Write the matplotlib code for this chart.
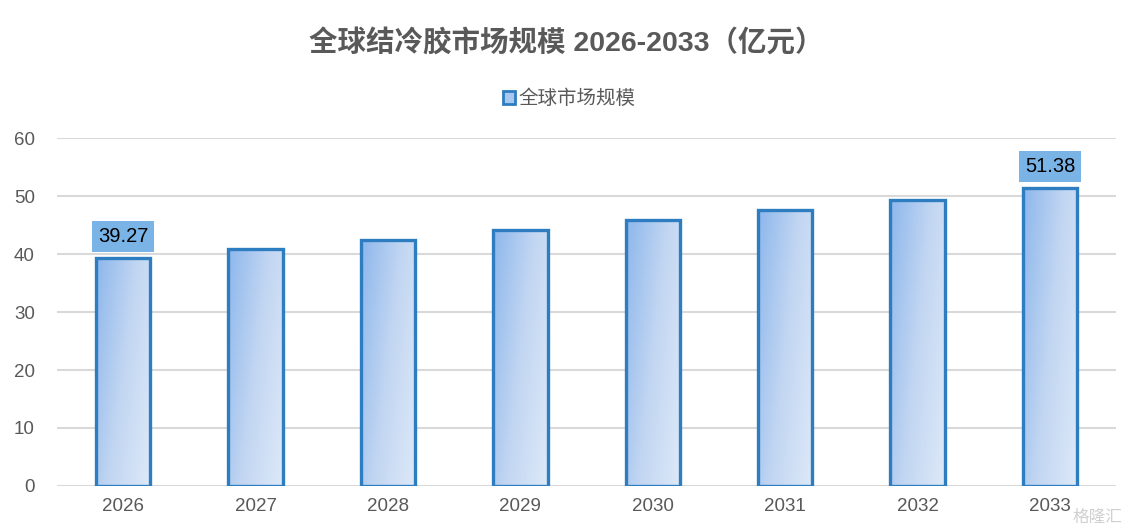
import numpy as np
import matplotlib.pyplot as plt
from matplotlib.patches import Patch
from matplotlib.colors import LinearSegmentedColormap

plt.rcParams['font.family'] = ['Liberation Sans', 'Noto Sans CJK SC', 'DejaVu Sans']

# data
years = ["2026", "2027", "2028", "2029", "2030", "2031", "2032", "2033"]
market_size = [39.27, 40.9, 42.4, 44.1, 45.8, 47.6, 49.3, 51.38]
labelled = {0: "39.27", 7: "51.38"}

title = "全球结冷胶市场规模 2026-2033（亿元）"
legend_label = "全球市场规模"

grey_text = "#595959"
edge_blue = "#2e7dc0"
grad = LinearSegmentedColormap.from_list("bar", ["#8db7ec", "#c2d6f2", "#dde9f8"])

fig = plt.figure(figsize=(11.39, 5.32), dpi=100)
ax = fig.add_axes([0.050, 0.0865, 0.930, 0.654])

x = np.arange(len(years))
bars = ax.bar(x, market_size, width=0.41, facecolor="none",
              edgecolor=edge_blue, linewidth=2.4, zorder=3)

# gradient fill clipped to each bar (darker top-left, lighter bottom-right)
gx, gy = np.meshgrid(np.linspace(0, 1, 60), np.linspace(0, 1, 200))
shade = 0.65 * gx + 0.35 * gy   # gy=0 at top when origin='upper'
for b in bars:
    x0, w, h = b.get_x(), b.get_width(), b.get_height()
    im = ax.imshow(shade, cmap=grad, extent=[x0, x0 + w, 0, h],
                   origin="upper", aspect="auto", zorder=2, vmin=0, vmax=1)
    im.set_clip_path(b)

for i, txt in labelled.items():
    ax.annotate(txt, (x[i], market_size[i]), xytext=(0, 15.5),
                textcoords="offset points", ha="center", va="center",
                fontsize=14.5, color="black", zorder=5,
                bbox=dict(boxstyle="square,pad=0.3", facecolor="#7ab4e6",
                          edgecolor="none"))

ax.set_xlim(-0.5, len(years) - 0.5)
ax.set_ylim(0, 60)
ax.set_yticks(range(0, 61, 10))
ax.set_xticks(x)
ax.set_xticklabels(years)
ax.yaxis.grid(True, color="#d9d9d9", linewidth=1.5, zorder=0)
ax.set_axisbelow(True)
for s in ax.spines.values():
    s.set_visible(False)
ax.tick_params(axis="both", length=0, labelsize=13.5, colors=grey_text)
ax.tick_params(axis="x", pad=9)
ax.tick_params(axis="y", pad=16)

fig.text(0.497, 0.918, title, ha="center", va="center", fontsize=20.5,
         fontweight="bold", color=grey_text)

handle = Patch(facecolor="#a9c8ef", edgecolor=edge_blue, linewidth=2)
fig.legend([handle], [legend_label], loc="center", bbox_to_anchor=(0.5, 0.814),
           frameon=False, fontsize=14, handlelength=0.6, handleheight=0.6,
           handletextpad=0.2, labelcolor=grey_text)

fig.text(0.985, 0.028, "格隆汇", ha="right", va="center", fontsize=12,
         color="#d0d0d0")

fig.savefig("out.png", dpi=100)
